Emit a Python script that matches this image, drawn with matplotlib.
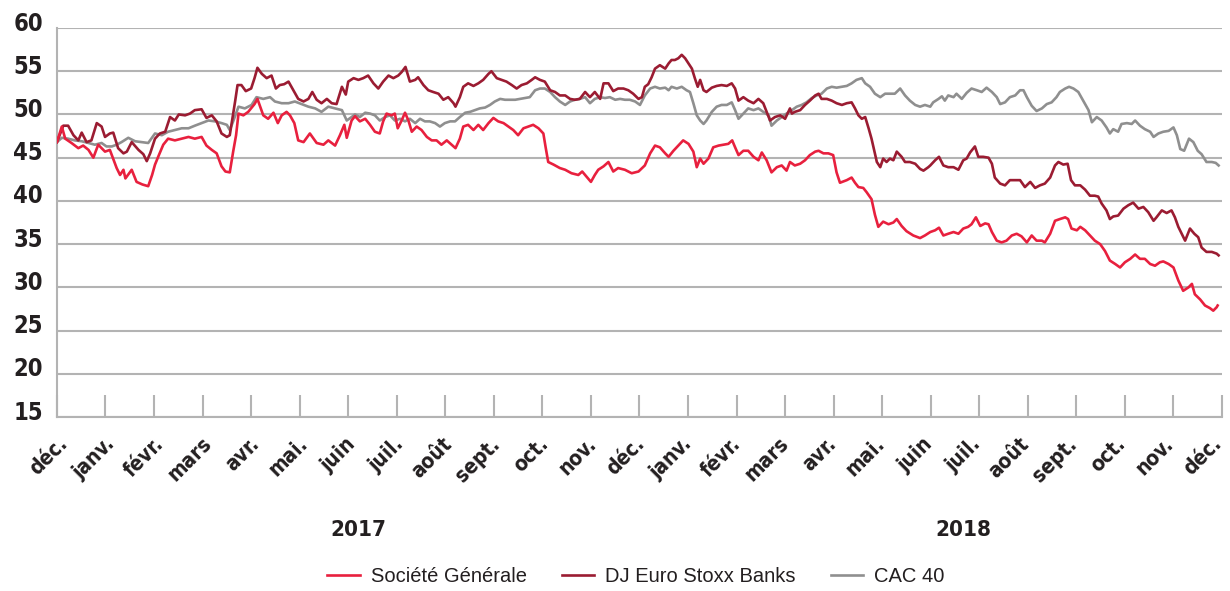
import matplotlib.pyplot as plt
import matplotlib.transforms as mtransforms

# time axis: months elapsed since early December 2016
sg_t = [0.00, 0.10, 0.17, 0.30, 0.44, 0.54, 0.65, 0.75, 0.85, 0.99, 1.09, 1.23, 1.30, 1.37, 1.41, 1.54,
        1.64, 1.76, 1.88, 1.96, 2.02, 2.10, 2.19, 2.29, 2.43, 2.57, 2.71, 2.84, 2.98, 3.08, 3.19, 3.29,
        3.39, 3.47, 3.56, 3.63, 3.69, 3.74, 3.84, 3.94, 4.07, 4.13, 4.25, 4.35, 4.46, 4.55, 4.63, 4.73,
        4.80, 4.89, 4.97, 5.08, 5.21, 5.35, 5.49, 5.59, 5.73, 5.83, 5.92, 5.97, 6.07,
        6.14, 6.24, 6.35, 6.45, 6.55, 6.65, 6.72, 6.79, 6.89, 6.96, 7.02, 7.10, 7.17, 7.24, 7.31, 7.41,
        7.51, 7.62, 7.72, 7.82, 7.92, 8.03, 8.13, 8.21, 8.30, 8.37, 8.47, 8.58, 8.68, 8.78, 8.89, 8.99,
        9.09, 9.20, 9.30, 9.40, 9.50, 9.61, 9.71, 9.81, 9.92, 10.02, 10.07, 10.12, 10.23, 10.36, 10.47,
        10.60, 10.74, 10.82, 10.91, 11.00, 11.08, 11.15, 11.26, 11.36, 11.46, 11.56, 11.70, 11.84, 11.98,
        12.11, 12.22, 12.32, 12.42, 12.53, 12.60, 12.70, 12.80, 12.90, 13.01, 13.11, 13.18, 13.25, 13.32,
        13.42, 13.52, 13.63, 13.73, 13.83, 13.91, 13.97, 14.04, 14.14, 14.24, 14.35, 14.45, 14.52, 14.62,
        14.72, 14.83, 14.93, 15.03, 15.10, 15.20, 15.31, 15.41, 15.51, 15.62, 15.69, 15.79, 15.89, 15.99,
        16.06, 16.13, 16.27, 16.37, 16.44, 16.51, 16.61, 16.68, 16.78, 16.85, 16.92, 17.02, 17.13, 17.23,
        17.30, 17.40, 17.50, 17.64, 17.78,
        17.88, 17.99, 18.09, 18.17, 18.26, 18.36, 18.47, 18.57, 18.67, 18.77, 18.84, 18.93, 19.02, 19.12,
        19.19, 19.26, 19.36, 19.46, 19.56, 19.67, 19.77, 19.87, 19.98, 20.08, 20.18, 20.29, 20.35, 20.46,
        20.56, 20.66, 20.77, 20.83, 20.90, 21.01, 21.08, 21.18, 21.28, 21.38, 21.49, 21.59, 21.69, 21.80,
        21.90, 22.00, 22.11, 22.21, 22.31, 22.41, 22.52, 22.62, 22.72, 22.79, 22.90, 23.00, 23.10, 23.20,
        23.31, 23.38, 23.44, 23.55, 23.65, 23.75, 23.82, 23.89, 23.91]
sg = [46.8, 48.6, 47.2, 46.7, 46.1, 46.4, 45.9, 45.0, 46.5, 45.7, 45.9, 43.8, 43.0, 43.6, 42.6, 43.6,
      42.2, 41.9, 41.7, 43.0, 44.2, 45.3, 46.5, 47.2, 47.0, 47.2, 47.4, 47.2, 47.4, 46.4, 45.9, 45.5,
      44.0, 43.4, 43.3, 45.7, 47.6, 50.1, 49.9, 50.3, 51.2, 51.8, 49.9, 49.5, 50.2, 49.0, 49.9, 50.3,
      49.9, 49.0, 47.0, 46.8, 47.8, 46.7, 46.5, 47.0, 46.4, 47.6, 48.8, 47.3, 49.3,
      49.8, 49.2, 49.5, 48.8, 48.0, 47.8, 49.2, 50.1, 49.9, 50.1, 48.4, 49.3, 50.2, 49.3, 48.0, 48.6,
      48.2, 47.4, 47.0, 47.0, 46.5, 47.0, 46.5, 46.1, 47.2, 48.6, 48.8, 48.2, 48.8, 48.2, 49.0, 49.6,
      49.2, 49.0, 48.6, 48.2, 47.6, 48.4, 48.6, 48.8, 48.4, 47.8, 46.1, 44.5, 44.2, 43.8, 43.6,
      43.2, 43.0, 43.4, 42.8, 42.2, 43.0, 43.6, 44.0, 44.5, 43.4, 43.8, 43.6, 43.2, 43.4,
      44.1, 45.5, 46.4, 46.2, 45.5, 45.1, 45.8, 46.4, 47.0, 46.6, 45.7, 43.9, 44.9, 44.3,
      44.9, 46.2, 46.4, 46.5, 46.6, 47.0, 46.2, 45.3, 45.8, 45.8, 45.1, 44.7, 45.6, 44.7,
      43.3, 43.9, 44.1, 43.5, 44.5, 44.1, 44.3, 44.7, 45.3, 45.7, 45.8, 45.5, 45.5, 45.3,
      43.3, 42.1, 42.4, 42.7, 42.1, 41.6, 41.5, 41.0, 40.2, 38.4, 37.0, 37.6, 37.3, 37.5,
      37.9, 37.1, 36.5, 36.0, 35.7,
      36.0, 36.4, 36.6, 36.9, 36.0, 36.2, 36.4, 36.2, 36.8, 37.0, 37.3, 38.1, 37.1, 37.4,
      37.3, 36.4, 35.4, 35.2, 35.4, 36.0, 36.2, 35.9, 35.2, 36.0, 35.4, 35.4, 35.2, 36.2,
      37.7, 37.9, 38.1, 37.9, 36.8, 36.6, 37.0, 36.6, 36.0, 35.4, 35.0, 34.2, 33.1, 32.7,
      32.3, 32.9, 33.3, 33.8, 33.3, 33.3, 32.7, 32.5, 32.9, 33.0, 32.7, 32.3, 30.8, 29.6,
      30.0, 30.4, 29.2, 28.6, 27.9, 27.6, 27.3, 27.7, 27.9]

dj_t = [0.00, 0.13, 0.23, 0.34, 0.44, 0.51, 0.61, 0.71, 0.82, 0.92, 0.99, 1.09, 1.16, 1.26, 1.37, 1.44,
        1.54, 1.68, 1.78, 1.85, 1.92, 2.02, 2.12, 2.23, 2.33, 2.43, 2.51, 2.64, 2.74, 2.84, 2.98, 3.08,
        3.19, 3.29, 3.39, 3.50, 3.56, 3.67, 3.72, 3.80, 3.89, 4.00, 4.07, 4.13, 4.22, 4.32, 4.42, 4.51,
        4.59, 4.68, 4.77, 4.87, 4.97, 5.08, 5.18, 5.26, 5.35, 5.45, 5.56, 5.66, 5.76, 5.87, 5.95, 6.00,
        6.11, 6.21, 6.31, 6.41, 6.52, 6.62, 6.72, 6.83, 6.93, 7.03, 7.10, 7.18, 7.27, 7.38, 7.44, 7.55,
        7.65, 7.75, 7.86, 7.96, 8.06, 8.17, 8.21, 8.30, 8.37, 8.47, 8.58, 8.68, 8.78, 8.89, 8.95, 9.06,
        9.16, 9.26, 9.37, 9.47, 9.57, 9.68, 9.78, 9.85, 9.95, 10.05, 10.16, 10.26, 10.36, 10.47, 10.57,
        10.67, 10.77, 10.88, 10.98, 11.08, 11.19, 11.26, 11.36, 11.46, 11.56, 11.67, 11.77, 11.87, 11.98,
        12.05, 12.11, 12.18, 12.25, 12.32, 12.42, 12.53, 12.60, 12.66, 12.73, 12.80, 12.87, 12.94, 13.01,
        13.08, 13.14, 13.20, 13.25, 13.32, 13.38, 13.49, 13.59, 13.69, 13.80, 13.90, 13.97, 14.04, 14.14,
        14.24, 14.35, 14.45, 14.55, 14.62, 14.69, 14.79, 14.90, 15.00, 15.10, 15.14, 15.20, 15.31, 15.41,
        15.51, 15.62, 15.69, 15.75, 15.86, 15.96, 16.06, 16.17, 16.27, 16.37, 16.44, 16.51, 16.58, 16.65,
        16.72, 16.78, 16.84, 16.89, 16.96, 17.02, 17.09, 17.16, 17.23, 17.30, 17.40, 17.47, 17.57, 17.68,
        17.78, 17.85, 17.95,
        17.99, 18.09, 18.17, 18.26, 18.36, 18.47, 18.57, 18.67, 18.74, 18.81, 18.91, 18.98, 19.08, 19.19,
        19.26, 19.32, 19.43, 19.53, 19.63, 19.74, 19.84, 19.94, 20.05, 20.15, 20.25, 20.35, 20.46, 20.56,
        20.63, 20.73, 20.82, 20.89, 20.97, 21.08, 21.18, 21.28, 21.38, 21.45, 21.52, 21.62, 21.69, 21.76,
        21.86, 21.97, 22.07, 22.17, 22.28, 22.38, 22.48, 22.59, 22.65, 22.76, 22.86, 22.96, 23.03, 23.10,
        23.17, 23.24, 23.34, 23.43, 23.51, 23.58, 23.68, 23.79, 23.89, 23.93]
dj = [46.8, 48.7, 48.7, 47.6, 47.0, 47.9, 46.8, 47.0, 49.0, 48.6, 47.4, 47.8, 47.9, 46.1, 45.5, 45.7,
      46.8, 45.9, 45.4, 44.6, 45.5, 47.2, 47.8, 48.0, 49.7, 49.3, 50.0, 49.9, 50.1, 50.5, 50.6, 49.6,
      49.9, 49.2, 47.8, 47.4, 47.6, 51.5, 53.4, 53.4, 52.7, 53.0, 54.2, 55.4, 54.7, 54.2, 54.5, 53.0,
      53.4, 53.5, 53.8, 52.8, 51.8, 51.5, 51.8, 52.6, 51.7, 51.3, 51.8, 51.3, 51.2, 53.2, 52.3, 53.8,
      54.2, 54.0, 54.2, 54.5, 53.6, 53.0, 53.8, 54.5, 54.2, 54.5, 54.9, 55.5, 53.8, 54.0, 54.3, 53.4,
      52.8, 52.6, 52.4, 51.7, 52.0, 51.3, 50.9, 52.0, 53.2, 53.6, 53.3, 53.6, 54.0, 54.7, 55.0, 54.2,
      54.0, 53.8, 53.4, 53.0, 53.4, 53.6, 54.0, 54.3, 54.0, 53.8, 52.8, 52.6, 52.2, 52.2, 51.8,
      51.7, 51.8, 52.6, 52.0, 52.6, 51.8, 53.6, 53.6, 52.7, 53.0, 53.0, 52.8, 52.4, 51.8,
      52.0, 53.2, 53.5, 54.3, 55.3, 55.7, 55.3, 55.9, 56.3, 56.3, 56.5, 56.9, 56.5, 55.9,
      55.3, 54.2, 53.2, 54.0, 52.8, 52.6, 53.1, 53.3, 53.4, 53.3, 53.6, 53.0, 51.6, 52.0,
      51.6, 51.3, 51.8, 51.3, 50.3, 49.3, 49.7, 49.9, 49.5, 50.7, 50.1, 50.3, 50.5, 51.1,
      51.6, 52.2, 52.4, 51.8, 51.8, 51.6, 51.3, 51.1, 51.3, 51.4, 50.7, 49.9, 49.5, 49.7,
      48.4, 47.2, 45.7, 44.5, 43.9, 44.9, 44.5, 44.9, 44.7, 45.7, 45.1, 44.5, 44.5, 44.3,
      43.7, 43.5, 43.9,
      44.1, 44.7, 45.1, 44.1, 43.9, 43.9, 43.6, 44.7, 44.9, 45.6, 46.3, 45.1, 45.1, 45.0,
      44.3, 42.7, 42.0, 41.8, 42.4, 42.4, 42.4, 41.6, 42.2, 41.5, 41.8, 42.0, 42.7, 44.1,
      44.5, 44.2, 44.3, 42.4, 41.8, 41.8, 41.3, 40.6, 40.6, 40.5, 39.7, 38.9, 37.9, 38.2,
      38.3, 39.1, 39.5, 39.8, 39.1, 39.3, 38.7, 37.7, 38.1, 38.9, 38.6, 38.9, 38.1, 37.0,
      36.2, 35.4, 36.8, 36.2, 35.8, 34.6, 34.1, 34.1, 33.9, 33.7]

cac_t = [0.00, 0.10, 0.23, 0.37, 0.51, 0.65, 0.78, 0.92, 1.02, 1.13, 1.23, 1.33, 1.47, 1.61, 1.74, 1.88,
         2.02, 2.16, 2.29, 2.43, 2.57, 2.71, 2.84, 2.98, 3.12, 3.26, 3.39, 3.50, 3.56, 3.63, 3.74, 3.87,
         4.01, 4.11, 4.25, 4.39, 4.49, 4.63, 4.77, 4.90, 5.04, 5.18, 5.32, 5.45, 5.59, 5.73, 5.87, 5.97,
         6.07, 6.14, 6.24, 6.35, 6.45, 6.55, 6.65, 6.76, 6.86, 6.96, 7.07, 7.17, 7.27, 7.38, 7.48, 7.58,
         7.68, 7.79, 7.89, 7.99, 8.10, 8.20, 8.30, 8.41, 8.51, 8.61, 8.71, 8.82, 8.92, 9.02, 9.13, 9.23,
         9.33, 9.44, 9.54, 9.64, 9.74, 9.85, 9.95, 10.05, 10.16, 10.26, 10.36, 10.47, 10.57, 10.67, 10.77,
         10.88, 10.98, 11.08, 11.19, 11.29, 11.39, 11.50, 11.60, 11.70, 11.80, 11.91, 12.01,
         12.11, 12.22, 12.32, 12.42, 12.53, 12.60, 12.66, 12.77, 12.87, 12.97, 13.04, 13.11, 13.18, 13.25,
         13.32, 13.38, 13.49, 13.59, 13.69, 13.80, 13.90, 13.97, 14.04, 14.14, 14.24, 14.35, 14.45, 14.55,
         14.66, 14.72, 14.83, 14.93, 15.03, 15.14, 15.24, 15.34, 15.44, 15.55, 15.65, 15.75, 15.86, 15.96,
         16.06, 16.17, 16.27, 16.37, 16.47, 16.58, 16.65, 16.75, 16.85, 16.96, 17.06, 17.16, 17.26, 17.37,
         17.47, 17.57, 17.68, 17.78, 17.88, 17.99,
         18.05, 18.16, 18.23, 18.29, 18.36, 18.47, 18.53, 18.64, 18.74, 18.84, 18.95, 19.05, 19.15, 19.26,
         19.36, 19.43, 19.53, 19.63, 19.74, 19.84, 19.91, 19.98, 20.08, 20.18, 20.29, 20.39, 20.49, 20.59,
         20.66, 20.77, 20.85, 20.94, 21.04, 21.14, 21.25, 21.32, 21.42, 21.52, 21.62, 21.69, 21.76, 21.86,
         21.93, 22.04, 22.14, 22.21, 22.31, 22.41, 22.52, 22.59, 22.69, 22.79, 22.90, 23.00, 23.07, 23.14,
         23.22, 23.32, 23.41, 23.50, 23.58, 23.68, 23.79, 23.87, 23.93]
cac = [46.8, 47.3, 47.2, 47.0, 46.9, 46.7, 46.5, 46.7, 46.3, 46.3, 46.5, 46.8, 47.3, 46.9, 46.8, 46.7,
       47.8, 47.6, 48.0, 48.2, 48.4, 48.4, 48.7, 49.0, 49.3, 49.2, 49.0, 48.8, 48.2, 49.2, 50.9, 50.7,
       51.1, 52.0, 51.8, 52.0, 51.5, 51.3, 51.3, 51.5, 51.2, 50.9, 50.7, 50.3, 50.9, 50.7, 50.5, 49.3,
       49.7, 50.0, 49.7, 50.2, 50.1, 49.9, 49.3, 49.7, 49.9, 49.3, 49.5, 49.2, 49.5, 49.0, 49.5, 49.2,
       49.2, 49.0, 48.6, 49.0, 49.2, 49.2, 49.7, 50.2, 50.3, 50.5, 50.7, 50.8, 51.1, 51.5, 51.8, 51.7,
       51.7, 51.7, 51.8, 51.9, 52.0, 52.8, 53.0, 53.0, 52.6, 52.0, 51.5, 51.1, 51.5, 51.7, 51.8,
       52.0, 51.3, 51.8, 52.0, 51.9, 52.0, 51.7, 51.8, 51.7, 51.7, 51.5, 51.1,
       52.2, 53.0, 53.2, 53.0, 53.1, 52.8, 53.2, 53.0, 53.2, 52.8, 52.6, 51.3, 49.9, 49.3,
       48.9, 49.3, 50.3, 50.9, 51.1, 51.1, 51.4, 50.5, 49.5, 50.1, 50.7, 50.5, 50.7, 50.3,
       49.9, 48.7, 49.3, 49.7, 50.1, 50.5, 50.9, 51.1, 51.4, 51.9, 52.2, 52.4, 53.0, 53.2,
       53.1, 53.2, 53.3, 53.6, 54.0, 54.2, 53.6, 53.2, 52.4, 52.0, 52.4, 52.4, 52.4, 53.0,
       52.2, 51.6, 51.1, 50.9, 51.1, 50.9,
       51.4, 51.8, 52.1, 51.6, 52.2, 52.0, 52.4, 51.8, 52.5, 53.0, 52.8, 52.6, 53.1, 52.6,
       52.0, 51.2, 51.4, 52.0, 52.2, 52.8, 52.8, 52.0, 51.0, 50.4, 50.7, 51.2, 51.4, 52.0,
       52.6, 53.0, 53.2, 53.0, 52.6, 51.6, 50.5, 49.1, 49.7, 49.3, 48.5, 47.8, 48.3, 48.0,
       48.9, 49.0, 48.9, 49.3, 48.7, 48.3, 48.0, 47.4, 47.8, 48.0, 48.1, 48.5, 47.6, 46.0,
       45.8, 47.2, 46.8, 45.8, 45.4, 44.5, 44.5, 44.4, 44.1]

mois = ['déc.', 'janv.', 'févr.', 'mars', 'avr.', 'mai.', 'juin', 'juil.', 'août', 'sept.', 'oct.', 'nov.',
        'déc.', 'janv.', 'févr.', 'mars', 'avr.', 'mai.', 'juin', 'juil.', 'août', 'sept.', 'oct.', 'nov.',
        'déc.']
annees = ['2017', '2018']
annees_pos = [6.2, 18.67]

plt.rcParams['font.family'] = ['DejaVu Sans']

fig = plt.figure(figsize=(12.3, 5.91), dpi=100)
ax = fig.add_axes([0.0463, 0.2944, 0.9472, 0.6582])

ax.plot(sg_t, sg, color='#e8203e', lw=1.9, label='Société Générale', zorder=4)
ax.plot(dj_t, dj, color='#9b1c32', lw=1.9, label='DJ Euro Stoxx Banks', zorder=3)
ax.plot(cac_t, cac, color='#8f8f8f', lw=1.9, label='CAC 40', zorder=2)

# Axes
ax.set_xlim(0, 24)
ax.set_ylim(15, 60)
ax.set_yticks(range(15, 61, 5))
ax.set_xticks(range(len(mois)))
ax.set_xticklabels(mois, rotation=45, ha='right', va='top', rotation_mode='anchor')
ax.tick_params(axis='x', direction='in', length=16, width=1.5, color='#b3b3b3',
               labelsize=15, labelcolor='#231f20', pad=12)
ax.tick_params(axis='y', length=0, labelsize=17, labelcolor='#231f20', pad=10)
for lab in ax.get_xticklabels() + ax.get_yticklabels():
    lab.set_fontweight('bold')
    lab.set_fontstretch('condensed')
# les libellés de mois glissent légèrement vers la gauche de gauche à droite
n = len(mois)
for i, lab in enumerate(ax.get_xticklabels()):
    dx = mtransforms.ScaledTranslation(-(11 * i / (n - 1)) / 100, 0, fig.dpi_scale_trans)
    lab.set_transform(lab.get_transform() + dx)
offset = mtransforms.ScaledTranslation(0, 5 / 72, fig.dpi_scale_trans)
for lab in ax.get_yticklabels():
    lab.set_transform(lab.get_transform() + offset)

ax.grid(axis='y', color='#b3b3b3', lw=1.5)
ax.set_axisbelow(True)
for s in ['top', 'right']:
    ax.spines[s].set_visible(False)
for s in ['left', 'bottom']:
    ax.spines[s].set_color('#b3b3b3')
    ax.spines[s].set_linewidth(1.5)

# années sous l'axe
trans = mtransforms.blended_transform_factory(ax.transData, fig.transFigure)
for an, pos in zip(annees, annees_pos):
    ax.text(pos, 0.103, an, transform=trans, ha='center', va='center',
            fontsize=16, fontweight='bold', fontstretch='condensed', color='#231f20')

ax.legend(loc='lower center', bbox_to_anchor=(0.517, -0.022), bbox_transform=fig.transFigure,
          ncol=3, frameon=False, handlelength=1.6, handletextpad=0.55, columnspacing=1.75,
          prop={'family': ['Liberation Sans', 'DejaVu Sans'], 'size': 14.5},
          labelcolor='#231f20')

fig.savefig('out.png', dpi=100)
